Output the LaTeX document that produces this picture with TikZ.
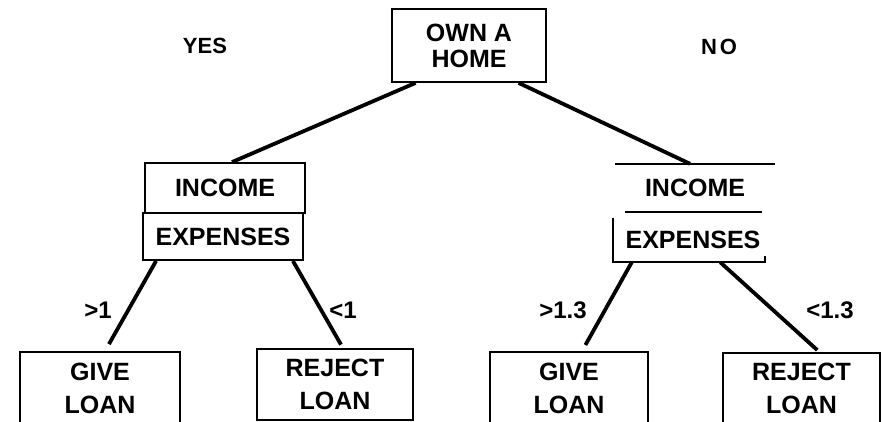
\documentclass[tikz,border=0pt]{standalone}
\usepackage{fontspec}
\setmainfont{Liberation Sans}
\usepackage{tikz}
\usetikzlibrary{positioning, calc}

\tikzset{
    box/.style={draw, line width=1.8pt, align=center, inner sep=0pt,
                font=\bfseries\fontsize{25}{33}\selectfont},
    plain/.style={align=center, inner sep=0pt,
                font=\bfseries\fontsize{25}{33}\selectfont},
    branch/.style={line width=3.8pt},
    lbl/.style={inner sep=0pt, font=\bfseries\fontsize{24}{25}\selectfont}
}

\begin{document}
\begin{tikzpicture}[x=1pt, y=-1pt]
    \useasboundingbox (0,0) rectangle (884,422);
    \clip (0,0) rectangle (884,422);
    % ROOT
    \node[box, minimum width=154, minimum height=73,
          font=\bfseries\fontsize{25}{26}\selectfont] (root) at (469,45.5) {OWN A\\HOME};
    \node[lbl, font=\bfseries\fontsize{22}{25}\selectfont] (yes) at (205,46) {YES};
    \node[lbl, font=\bfseries\fontsize{22}{25}\selectfont] (no) at (719,47) {N\hspace{3pt}O};
    % LEFT RATIO (yes)
    \node[box, minimum width=160, minimum height=50] (incL) at (225,188) {INCOME};
    \node[box, minimum width=160, minimum height=47] (expL) at (223,236.5) {EXPENSES};
    % RIGHT RATIO (no)
    \node[plain, minimum width=160, minimum height=48] (incR) at (695,188) {INCOME};
    \node[plain, minimum width=160, minimum height=44] (expR) at (693,240) {EXPENSES};
    \draw[line width=1.8pt] (incR.north west) -- (incR.north east);
    \draw[line width=1.8pt] ([xshift=10pt]incR.south west) -- ([xshift=-13pt]incR.south east);
    \draw[line width=1.8pt] (expR.north west) -- (expR.south west)
        -- ([xshift=-8pt]expR.south east) -- ++(0,-6);
    % LEAVES
    \node[box, minimum width=160, minimum height=72] (giveL) at (100,388) {GIVE\\LOAN};
    \node[box, minimum width=156, minimum height=71] (rejL) at (335,384.5) {REJECT\\LOAN};
    \node[box, minimum width=158, minimum height=72] (giveR) at (569,388) {GIVE\\LOAN};
    \node[box, minimum width=157, minimum height=70] (rejR) at (801.5,388) {REJECT\\LOAN};
    % Branches from root
    \draw[branch] (root.215) -- ([xshift=7pt]incL.north);
    \draw[branch] (root.-37) -- ([xshift=-5pt]incR.north);
    % Branches to leaves
    \draw[branch, shorten >=8pt] ([xshift=14pt]expL.south west) -- ([xshift=5pt]giveL.north);
    \draw[branch, shorten >=4pt] ([xshift=-11pt]expL.south east) -- ([xshift=8pt]rejL.north);
    \draw[branch, shorten >=7pt] ([xshift=19pt]expR.south west) -- ([xshift=13pt]giveR.north);
    \draw[branch, shorten >=3pt] ([xshift=-53pt]expR.south east) -- ([xshift=18pt]rejR.north);
    % Ratio thresholds
    \node[lbl] (gtL) at (98,310) {>1};
    \node[lbl] (ltL) at (343,310) {<1};
    \node[lbl] (gtR) at (563,310) {>1.3};
    \node[lbl] (ltR) at (830,310) {<1.3};
\end{tikzpicture}
\end{document}
